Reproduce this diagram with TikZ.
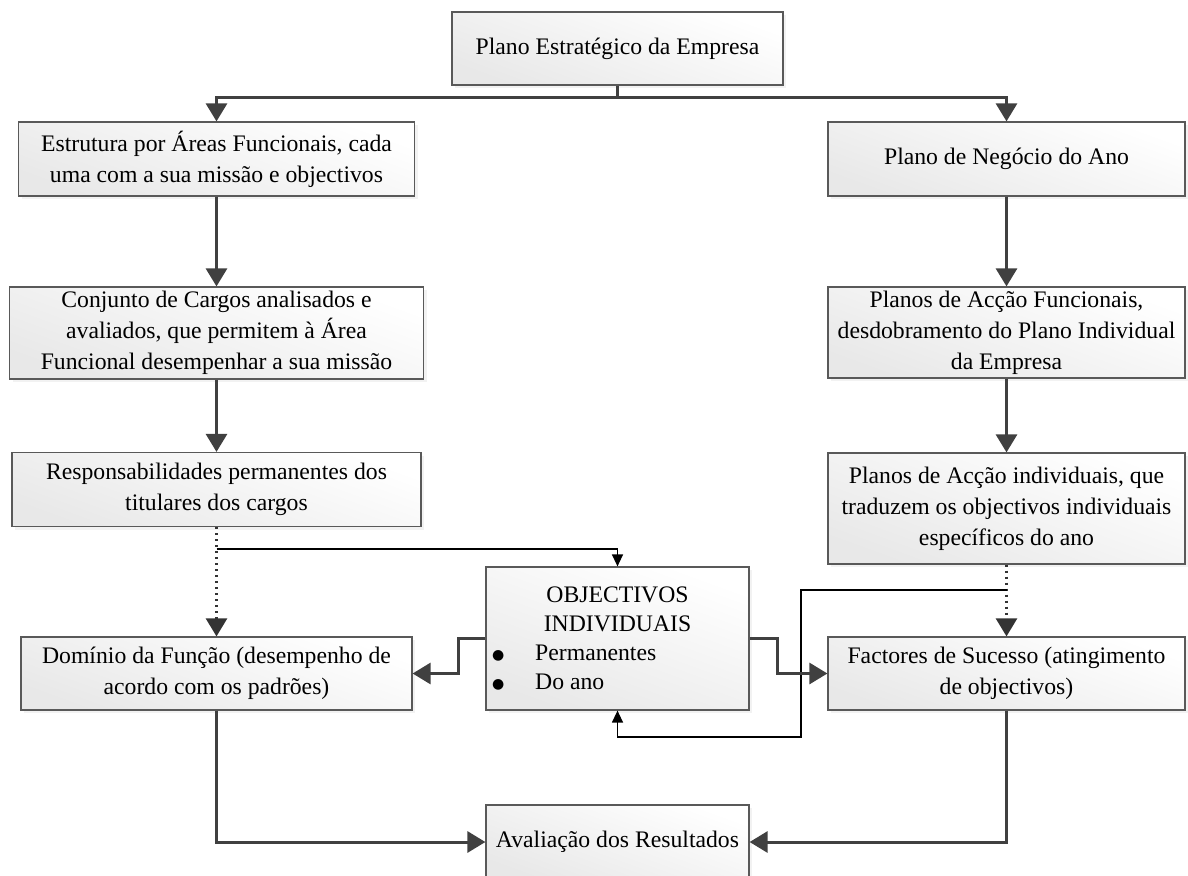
\documentclass[tikz,border=0pt]{standalone}
\usepackage{fontspec}
\setmainfont{Liberation Serif}
\newfontfamily\simbolos{DejaVu Sans}
\usetikzlibrary{arrows.meta,shadows}

\newcommand{\marca}{\raisebox{1.5pt}{\simbolos\fontsize{14}{14}\selectfont ●}}

\begin{document}
\begin{tikzpicture}[x=1pt, y=-1pt,
    caixa/.style={draw=black!65, line width=1.2pt, top color=white,
      bottom color=black!9, shading angle=-20,
      drop shadow={opacity=0.1, shadow xshift=3pt, shadow yshift=-3pt},
      align=center, inner sep=0pt,
      font=\fontsize{23.7}{31}\selectfont},
    seta/.style={draw=black!75, line width=3pt,
      -{Triangle[length=18pt, width=21pt]}},
    linha/.style={draw=black!75, line width=3pt},
    fina/.style={draw=black, line width=1.3pt,
      -{Triangle[length=12pt, width=11pt]}},
    pontos/.style={draw=black!80, line width=2.6pt, dash pattern=on 2pt off 4pt,
      -{Triangle[length=18pt, width=21pt]}}]
  \useasboundingbox (0,0) rectangle (1188,875);

  \node[caixa, minimum width=331pt, minimum height=73pt] (plano) at (617.5,48.5)
    {Plano Estratégico da Empresa};
  \node[caixa, minimum width=396pt, minimum height=74pt] (estrutura) at (216.5,159)
    {Estrutura por Áreas Funcionais, cada\\uma com a sua missão e objectivos};
  \node[caixa, minimum width=357pt, minimum height=74pt] (negocio) at (1006.5,159)
    {Plano de Negócio do Ano};
  \node[caixa, minimum width=414pt, minimum height=92pt] (cargos) at (216.5,333)
    {Conjunto de Cargos analisados e\\avaliados, que permitem à Área\\Funcional desempenhar a sua missão};
  \node[caixa, minimum width=357pt, minimum height=91pt] (funcionais) at (1006.5,332.5)
    {Planos de Acção Funcionais,\\desdobramento do Plano Individual\\da Empresa};
  \node[caixa, minimum width=409pt, minimum height=74pt] (resp) at (216.5,489.5)
    {Responsabilidades permanentes dos\\titulares dos cargos};
  \node[caixa, minimum width=357pt, minimum height=111pt] (individuais) at (1006.5,508.5)
    {Planos de Acção individuais, que\\traduzem os objectivos individuais\\específicos do ano};
  \node[caixa, minimum width=263pt, minimum height=143pt, font=\fontsize{23.7}{29}\selectfont]
    (objectivos) at (617.5,638.5)
    {OBJECTIVOS\\INDIVIDUAIS\\
     \makebox[251pt][l]{\marca\hspace{31pt}Permanentes}\\
     \makebox[251pt][l]{\marca\hspace{31pt}Do ano}};
  \node[caixa, minimum width=391pt, minimum height=73pt] (dominio) at (216.5,673.5)
    {Domínio da Função (desempenho de\\acordo com os padrões)};
  \node[caixa, minimum width=357pt, minimum height=73pt] (factores) at (1006.5,673.5)
    {Factores de Sucesso (atingimento\\de objectivos)};
  \node[caixa, minimum width=263pt, minimum height=74pt] (avaliacao) at (617.5,842)
    {Avaliação dos Resultados};

  \coordinate (ramo) at (617.5,97);
  \coordinate (ramoesq) at (216.5,549);
  \coordinate (ramodir) at (1006.5,590);

  \draw[linha] (plano.south) -- (ramo);
  \draw[seta] (ramo) -| (estrutura.north);
  \draw[seta] (ramo) -| (negocio.north);
  \draw[seta] (estrutura) -- (cargos);
  \draw[seta] (cargos) -- (resp);
  \draw[seta] (negocio) -- (funcionais);
  \draw[seta] (funcionais) -- (individuais);

  \draw[pontos] (resp.south) -- (dominio.north);
  \draw[pontos] (individuais.south) -- (factores.north);
  \draw[fina] (ramoesq) -| (objectivos.north);
  \draw[fina] (ramodir) -- (801,590) |- (617.5,737) -- (objectivos.south);

  \draw[seta] (objectivos.west) -- (458,638.5) |- (dominio.east);
  \draw[seta] (objectivos.east) -- (777,638.5) |- (factores.west);
  \draw[seta] (dominio.south) |- (avaliacao.west);
  \draw[seta] (factores.south) |- (avaliacao.east);
\end{tikzpicture}
\end{document}
